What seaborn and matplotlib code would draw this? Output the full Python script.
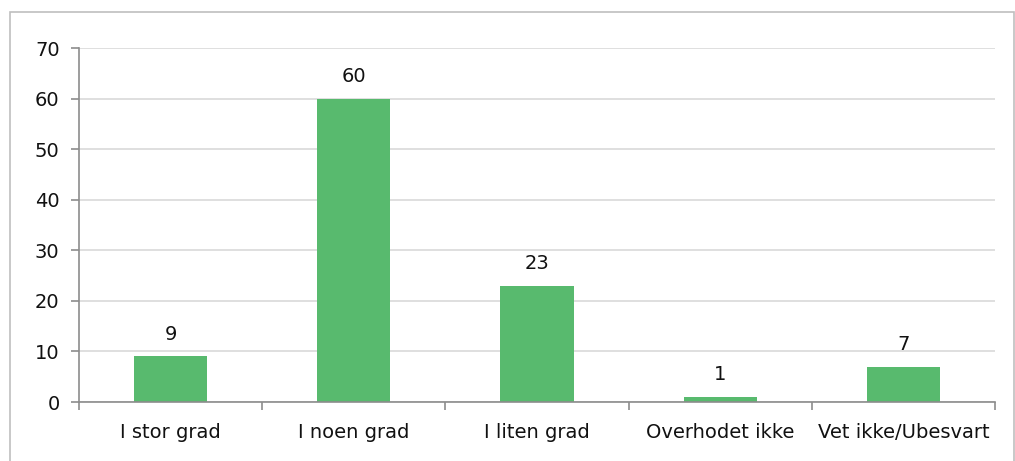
"""Survey answer distribution bar chart."""

import matplotlib
matplotlib.use('Agg')
import matplotlib.pyplot as plt
import matplotlib.patches as mpatches
import numpy as np
import pandas as pd
import seaborn as sns

categories = ['I stor grad', 'I noen grad', 'I liten grad', 'Overhodet ikke', 'Vet ikke/Ubesvart']
values = [9, 60, 23, 1, 7]
y_ticks = [0, 10, 20, 30, 40, 50, 60, 70]

sns.set_theme(style='white')
plt.rcParams['font.family'] = ['DejaVu Sans']

df = pd.DataFrame({'kategori': categories, 'prosent': values})

fig = plt.figure(figsize=(10.15, 4.61), dpi=100)
ax = fig.add_axes([79 / 1015, 1 - 402 / 461, (995 - 79) / 1015, (402 - 48) / 461])

sns.barplot(data=df, x='kategori', y='prosent', color='#58BA6E', saturation=1,
            width=0.40, linewidth=0, ax=ax)
ax.bar_label(ax.containers[0], labels=[str(v) for v in values], padding=9,
             fontsize=14, color='#111111')

ax.set_ylim(0, 70)
ax.set_xlim(-0.5, len(categories) - 0.5)
ax.set_yticks(y_ticks)
ax.set_xlabel('')
ax.set_ylabel('')
ax.yaxis.grid(True, color='#d9d9d9', linewidth=1.2)
ax.set_axisbelow(True)

for side in ['top', 'right']:
    ax.spines[side].set_visible(False)
for side in ['left', 'bottom']:
    ax.spines[side].set_color('#8c8c8c')
    ax.spines[side].set_linewidth(1.2)

ax.tick_params(axis='y', which='major', left=True, length=6, width=1.2,
               color='#8c8c8c', labelsize=14, labelcolor='#111111', pad=8)
ax.tick_params(axis='x', which='major', bottom=False, labelsize=14,
               labelcolor='#111111', pad=9)
ax.set_xticks(np.arange(-0.5, len(categories), 1.0), minor=True)
ax.tick_params(axis='x', which='minor', bottom=True, length=6, width=1.2,
               color='#8c8c8c')

# outer chart border
border = mpatches.Rectangle((10 / 1015, -0.1), 1004 / 1015, 1.1 - 12 / 461,
                            transform=fig.transFigure, fill=False,
                            edgecolor='#bfbfbf', linewidth=1.2, clip_on=False)
fig.patches.append(border)

fig.savefig('out.png', dpi=100)
